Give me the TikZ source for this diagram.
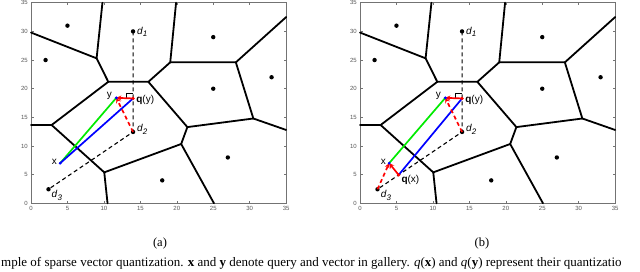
\documentclass[tikz,border=0pt]{standalone}
\usepackage{fontspec}
\setmainfont{Liberation Serif}
\setsansfont{Liberation Sans}
\usetikzlibrary{arrows.meta}
\definecolor{mgreen}{RGB}{0,235,0}
\definecolor{mblue}{RGB}{0,0,255}
\definecolor{mred}{RGB}{255,0,0}
\tikzset{
  axisline/.style={draw=black!55, line width=0.6pt},
  ticklab/.style={font=\sffamily\fontsize{6}{6}\selectfont, text=black!65, inner sep=0.5pt},
  vor/.style={line width=1.8pt, line join=round, line cap=round},
  site/.style={circle, fill=black, inner sep=0pt, minimum size=4.4pt},
  guide/.style={line width=1.1pt, dash pattern=on 4pt off 3pt},
  redarr/.style={mred, line width=1.7pt, -{Stealth[length=5pt,width=5pt]}},
  reddash/.style={redarr, dash pattern=on 4pt off 3pt},
  greenline/.style={mgreen, line width=1.7pt},
  blueline/.style={mblue, line width=1.7pt},
  bdot/.style={circle, fill=mblue, inner sep=0pt, minimum size=3.2pt},
  rdot/.style={circle, fill=mred, inner sep=0pt, minimum size=3.6pt},
  lab/.style={font=\sffamily\fontsize{10}{10}\selectfont, inner sep=0.5pt},
  rightang/.style={line width=1.1pt},
  caplab/.style={font=\fontsize{13}{14}\selectfont, inner sep=0pt},
  capsub/.style={font=\fontsize{12.5}{14}\selectfont, inner sep=0pt},
}
\newcommand\dlab[1]{\textit{d}\raisebox{-0.5ex}{\fontsize{8}{8}\selectfont\textit{#1}}}
\newcommand\vorbase[1]{%
  \draw[axisline] (0,0) rectangle (35,35);
  \foreach \t in {0,5,...,35}{
    \draw[axisline] (\t,0) -- (\t,0.45);
    \draw[axisline] (\t,35) -- (\t,34.55);
    \draw[axisline] (0,\t) -- (0.35,\t);
    \draw[axisline] (35,\t) -- (34.65,\t);
    \node[ticklab, anchor=north] (#1tx\t) at (\t,-0.45) {\t};
    \node[ticklab, anchor=east] (#1ty\t) at (-0.35,\t) {\t};
  }
  \coordinate (#1A) at (0,29.8);
  \coordinate (#1V1) at (9.0,25.3);
  \coordinate (#1T1) at (9.8,35);
  \coordinate (#1V2) at (10.6,21.2);
  \coordinate (#1V3) at (16.1,21.2);
  \coordinate (#1V4) at (19.1,24.6);
  \coordinate (#1T2) at (19.9,35);
  \coordinate (#1V5) at (28.1,24.6);
  \coordinate (#1R1) at (35,32.5);
  \coordinate (#1V6) at (30.5,14.8);
  \coordinate (#1R2) at (35,12.8);
  \coordinate (#1V7) at (21.45,13.3);
  \coordinate (#1V8) at (20.6,10.35);
  \coordinate (#1B1) at (25.1,0);
  \coordinate (#1V9) at (10.05,5.4);
  \coordinate (#1B2) at (10.5,0);
  \coordinate (#1V10) at (2.83,13.66);
  \coordinate (#1L2) at (0,13.66);
  \draw[vor] (#1A) -- (#1V1) -- (#1T1);
  \draw[vor] (#1V1) -- (#1V2) -- (#1V3) -- (#1V4) -- (#1T2);
  \draw[vor] (#1V4) -- (#1V5) -- (#1R1);
  \draw[vor] (#1V5) -- (#1V6) -- (#1R2);
  \draw[vor] (#1V6) -- (#1V7) -- (#1V3);
  \draw[vor] (#1V7) -- (#1V8) -- (#1B1);
  \draw[vor] (#1V8) -- (#1V9) -- (#1B2);
  \draw[vor] (#1V9) -- (#1V10) -- (#1L2);
  \draw[vor] (#1V10) -- (#1V2);
  \node[site] (#1s1) at (5,31) {};
  \node[site] (#1s2) at (2,25) {};
  \node[site] (#1s3) at (25,29) {};
  \node[site] (#1s4) at (25,20) {};
  \node[site] (#1s5) at (33,22) {};
  \node[site] (#1s6) at (18,4) {};
  \node[site] (#1s7) at (27,8) {};
  \node[site] (#1d1) at (14,30) {};
  \node[site] (#1d2) at (14,12.45) {};
  \node[site] (#1d3) at (2.4,2.45) {};
  \draw[guide] (#1d1.center) -- (#1d2.center) -- (#1d3.center);
  \node[lab, anchor=west] (#1l1) at (14.45,29.9) {\dlab{1}};
  \node[lab, anchor=west] (#1l2) at (14.45,12.9) {\dlab{2}};
  \node[lab, anchor=west] (#1l3) at (2.75,1.4) {\dlab{3}};
}
\begin{document}
\begin{tikzpicture}[x=1pt,y=-1pt]
\useasboundingbox (0,0) rectangle (640,271);
\fill[white] (0,0) rectangle (640,271);
% ---------- plot (a)
\begin{scope}[shift={(31pt,-203.3pt)}, x=7.29pt, y=5.73pt]
  \vorbase{a}
  \coordinate (ax) at (4,7);
  \coordinate (ay) at (11.7,18.4);
  \coordinate (aqy) at (14,18.3);
  \draw[rightang] (13.05,18.4) -- (13.05,19.2) -- (14,19.2);
  \draw[greenline] (ax) -- (ay);
  \draw[blueline] (ax) -- (aqy);
  \draw[reddash] (ad2.center) -- (ay);
  \draw[redarr] (aqy) -- (ay);
  \node[bdot] (axd) at (ax) {};
  \node[bdot] (ayd) at (ay) {};
  \node[rdot] (aqyd) at (aqy) {};
  \node[lab, anchor=east] (axl) at (3.65,7.25) {x};
  \node[lab, anchor=east] (ayl) at (11.2,18.7) {y};
  \node[lab, anchor=west] (aqyl) at (14.35,18.1) {\textbf{q}(y)};
\end{scope}
% ---------- plot (b)
\begin{scope}[shift={(360pt,-203.3pt)}, x=7.29pt, y=5.73pt]
  \vorbase{b}
  \coordinate (bx) at (4,7);
  \coordinate (by) at (11.7,18.4);
  \coordinate (bqy) at (14,18.3);
  \coordinate (bqx) at (5.3,4.95);
  \draw[rightang] (13.05,18.4) -- (13.05,19.2) -- (14,19.2);
  \draw[greenline] (bx) -- (by);
  \draw[blueline] (bqx) -- (bqy);
  \draw[reddash] (bd2.center) -- (by);
  \draw[redarr] (bqy) -- (by);
  \draw[reddash] (bd3.center) -- (bx);
  \draw[redarr] (bqx) -- (bx);
  \node[bdot] (bxd) at (bx) {};
  \node[bdot] (byd) at (by) {};
  \node[rdot] (bqyd) at (bqy) {};
  \node[rdot] (bqxd) at (bqx) {};
  \node[lab, anchor=east] (bxl) at (3.65,7.25) {x};
  \node[lab, anchor=east] (byl) at (11.2,18.7) {y};
  \node[lab, anchor=west] (bqyl) at (14.35,18.1) {\textbf{q}(y)};
  \node[lab, anchor=west] (bqxl) at (5.6,4.0) {\textbf{q}(x)};
\end{scope}
% ---------- captions
\node[capsub] (capa) at (160,243) {(a)};
\node[capsub] (capb) at (482,243) {(b)};
\node[caplab, anchor=base west] (capt) at (1,266.5) {mple of sparse vector quantization. \textbf{x} and \textbf{y} denote query and vector in gallery. \textit{q}(\textbf{x}) and \textit{q}(\textbf{y}) represent their quantizatio};
\end{tikzpicture}
\end{document}
